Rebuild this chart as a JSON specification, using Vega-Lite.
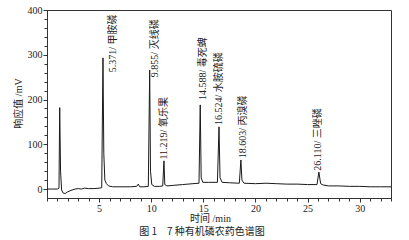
{
  "$schema": "https://vega.github.io/schema/vega-lite/v6.json",
  "width": 344,
  "height": 188,
  "autosize": {"type": "none"},
  "padding": {"left": 47, "top": 10, "right": 18, "bottom": 42},
  "background": "white",
  "title": {
    "text": "图 1　7 种有机磷农药色谱图",
    "orient": "bottom",
    "anchor": "middle",
    "dx": -17,
    "offset": 4,
    "font": "Noto Sans CJK SC",
    "fontSize": 10,
    "fontWeight": "normal",
    "color": "#222"
  },
  "datasets": {
    "trace": [
      {"t": 0, "v": 0}, {"t": 0.5, "v": 0}, {"t": 1.0, "v": 0}, {"t": 1.15, "v": 2},
      {"t": 1.22, "v": 182}, {"t": 1.3, "v": 40}, {"t": 1.4, "v": -2}, {"t": 1.55, "v": -9},
      {"t": 1.75, "v": -10}, {"t": 2.0, "v": -6}, {"t": 2.3, "v": -3}, {"t": 2.7, "v": 0},
      {"t": 3.0, "v": 1}, {"t": 3.3, "v": 0}, {"t": 3.6, "v": 2}, {"t": 4.0, "v": 1},
      {"t": 4.5, "v": 1}, {"t": 5.0, "v": 2}, {"t": 5.25, "v": 3}, {"t": 5.37, "v": 293},
      {"t": 5.45, "v": 80}, {"t": 5.55, "v": 20}, {"t": 5.7, "v": 12}, {"t": 5.9, "v": 7},
      {"t": 6.3, "v": 5}, {"t": 7.0, "v": 5}, {"t": 8.0, "v": 5}, {"t": 8.6, "v": 6},
      {"t": 8.75, "v": 11}, {"t": 8.9, "v": 5}, {"t": 9.3, "v": 5}, {"t": 9.72, "v": 6},
      {"t": 9.85, "v": 266}, {"t": 9.93, "v": 40}, {"t": 10.05, "v": 10}, {"t": 10.3, "v": 6},
      {"t": 10.8, "v": 6}, {"t": 11.1, "v": 7}, {"t": 11.22, "v": 63}, {"t": 11.3, "v": 10},
      {"t": 11.5, "v": 7}, {"t": 12, "v": 8}, {"t": 13, "v": 10}, {"t": 14, "v": 12},
      {"t": 14.58, "v": 13}, {"t": 14.7, "v": 188}, {"t": 14.79, "v": 25}, {"t": 14.95, "v": 15},
      {"t": 15.5, "v": 15}, {"t": 16.35, "v": 15}, {"t": 16.5, "v": 139}, {"t": 16.6, "v": 25},
      {"t": 16.8, "v": 15}, {"t": 17.5, "v": 14}, {"t": 18.45, "v": 13}, {"t": 18.6, "v": 65},
      {"t": 18.7, "v": 20}, {"t": 18.9, "v": 13}, {"t": 20, "v": 12}, {"t": 21, "v": 13},
      {"t": 22, "v": 12}, {"t": 23, "v": 11}, {"t": 24, "v": 11}, {"t": 25, "v": 10},
      {"t": 25.9, "v": 10}, {"t": 26.08, "v": 38}, {"t": 26.25, "v": 12}, {"t": 26.5, "v": 9},
      {"t": 27, "v": 7}, {"t": 28, "v": 7}, {"t": 29, "v": 6}, {"t": 30, "v": 6},
      {"t": 31, "v": 5}, {"t": 32, "v": 5}, {"t": 33, "v": 5}
    ],
    "labels": [
      {"t": 6.33, "v": 261, "label": "5.371/ 甲胺磷"},
      {"t": 10.4, "v": 250, "label": "9.855/ 灭线磷"},
      {"t": 11.27, "v": 66, "label": "11.219/ 氧乐果"},
      {"t": 14.93, "v": 199, "label": "14.588/ 毒死蜱"},
      {"t": 16.54, "v": 143, "label": "16.524/ 水胺硫磷"},
      {"t": 18.76, "v": 69, "label": "18.603/ 丙溴磷"},
      {"t": 26.04, "v": 41, "label": "26.110/ 三唑磷"}
    ]
  },
  "layer": [
    {
      "data": {"name": "trace"},
      "mark": {"type": "line", "color": "#1a1a1a", "strokeWidth": 1, "interpolate": "linear"},
      "encoding": {
        "x": {
          "field": "t", "type": "quantitative",
          "scale": {"domain": [0, 33], "nice": false, "zero": false},
          "axis": {
            "orient": "bottom",
            "values": [5, 10, 15, 20, 25, 30],
            "tickSize": 4,
            "labelPadding": 1,
            "title": "时间 /min",
            "titleX": 163,
            "titleY": 23,
            "titleBaseline": "alphabetic",
            "titleAnchor": null
          }
        },
        "y": {
          "field": "v", "type": "quantitative",
          "scale": {"domain": [-20, 400], "nice": false, "zero": false},
          "axis": {
            "orient": "left",
            "values": [0, 100, 200, 300, 400],
            "tickSize": 4,
            "labelPadding": 1,
            "title": "响应值 /mV",
            "titleX": -29,
            "titleY": 93,
            "titleAngle": 270,
            "titleAlign": "center",
            "titleBaseline": "middle"
          }
        }
      }
    },
    {
      "data": {"name": "labels"},
      "mark": {
        "type": "text",
        "angle": 270,
        "align": "left",
        "baseline": "middle",
        "font": "Liberation Serif, Noto Sans CJK SC",
        "fontSize": 10,
        "color": "#222"
      },
      "encoding": {
        "x": {
          "field": "t", "type": "quantitative",
          "axis": {
            "orient": "bottom",
            "values": [0, 1, 2, 3, 4, 5, 6, 7, 8, 9, 10, 11, 12, 13, 14, 15, 16, 17, 18, 19, 20, 21, 22, 23, 24, 25, 26, 27, 28, 29, 30, 31, 32, 33],
            "labels": false,
            "domain": false,
            "tickSize": 3,
            "title": null
          }
        },
        "y": {
          "field": "v", "type": "quantitative",
          "axis": {
            "orient": "left",
            "values": [0, 20, 40, 60, 80, 100, 120, 140, 160, 180, 200, 220, 240, 260, 280, 300, 320, 340, 360, 380, 400],
            "labels": false,
            "domain": false,
            "tickSize": 3,
            "title": null
          }
        },
        "text": {"field": "label", "type": "nominal"}
      }
    }
  ],
  "resolve": {"axis": {"x": "independent", "y": "independent"}},
  "config": {
    "view": {"stroke": "#333", "strokeWidth": 1},
    "axis": {
      "grid": false,
      "domainColor": "#333",
      "tickColor": "#333",
      "labelFont": "Liberation Serif",
      "labelFontSize": 10,
      "labelColor": "#222",
      "titleFont": "Liberation Serif, Noto Sans CJK SC",
      "titleFontSize": 10,
      "titleFontWeight": "normal",
      "titleColor": "#222"
    }
  }
}
